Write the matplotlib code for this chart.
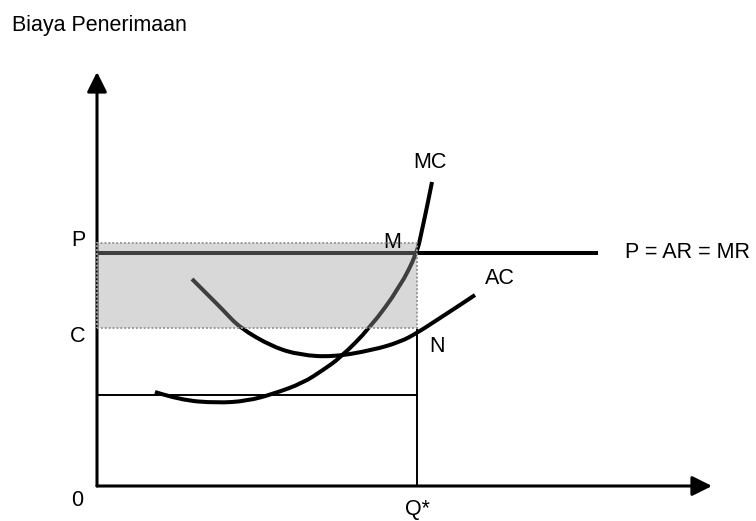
import matplotlib
matplotlib.use("Agg")
import matplotlib.pyplot as plt
from matplotlib.patches import Rectangle, PathPatch
from matplotlib.path import Path

plt.rcParams['font.family'] = ['Liberation Sans', 'DejaVu Sans']

# ---- data (arbitrary economic units) ----
Q_star = 32.0
P_level = 23.3
C_level = 15.8
shade_top = 24.3
low_level = 9.1
p_line_end = 50.1
x_axis_end = 61.5
y_axis_end = 41.4

mc_q = [5.8, 8.3, 12.0, 15.0, 17.6, 20.6, 22.6, 24.3, 27.3, 30.3, 32.0, 32.5, 33.0, 33.5]
mc_y = [9.4, 8.6, 8.3, 8.5, 9.2, 10.3, 11.6, 12.8, 15.8, 19.9, 23.3, 25.6, 27.9, 30.4]

ac_q = [9.5, 11.2, 12.6, 14.3, 17.6, 20.3, 23.6, 27.6, 30.3, 32.0, 34.3, 36.3, 37.8]
ac_y = [20.7, 19.0, 17.6, 15.8, 13.9, 13.1, 12.9, 13.6, 14.4, 15.3, 16.8, 18.1, 19.1]

labels = {
    "Biaya Penerimaan": (-8.5, 46.1, 'left'),
    "P": (-1.9, 24.6, 'center'),
    "C": (-1.9, 14.9, 'center'),
    "0": (-2.0, -1.4, 'center'),
    "Q*": (32.0, -2.4, 'center'),
    "M": (29.5, 24.4, 'center'),
    "N": (34.0, 13.9, 'center'),
    "MC": (33.3, 32.3, 'center'),
    "AC": (40.3, 20.8, 'center'),
    "P = AR = MR": (52.8, 23.3, 'left'),
}


def smooth_path(xs, ys):
    """Quadratic-Bezier path guided by the read points (rendering only)."""
    pts = list(zip(xs, ys))
    verts = [pts[0]]
    codes = [Path.MOVETO]
    for i in range(1, len(pts) - 1):
        mid = ((pts[i][0] + pts[i + 1][0]) / 2, (pts[i][1] + pts[i + 1][1]) / 2)
        if i == len(pts) - 2:
            mid = pts[i + 1]
        verts += [pts[i], mid]
        codes += [Path.CURVE3, Path.CURVE3]
    return Path(verts, codes)


fig = plt.figure(figsize=(7.56, 5.21), dpi=100)
ax = fig.add_axes([0, 0, 1, 1])
ax.set_xlim(-9.7, 65.9)
ax.set_ylim(-3.5, 48.6)
ax.axis('off')

# axes with arrows
arrow_kw = dict(arrowstyle='-|>,head_length=0.6,head_width=0.3', lw=2.2,
                color='black', shrinkA=0, shrinkB=0, mutation_scale=20)
ax.annotate("", xy=(0, y_axis_end), xytext=(0, 0), arrowprops=arrow_kw)
ax.annotate("", xy=(x_axis_end, 0), xytext=(0, 0), arrowprops=arrow_kw)

# price line
ax.plot([0, p_line_end], [P_level, P_level], color='black', lw=2.9, solid_capstyle='butt', zorder=2)
# thin lines
ax.plot([0, Q_star], [low_level, low_level], color='black', lw=1.4, zorder=2)
ax.plot([Q_star, Q_star], [0, C_level], color='black', lw=1.4, zorder=2)

# curves
for xs, ys in ((mc_q, mc_y), (ac_q, ac_y)):
    ax.add_patch(PathPatch(smooth_path(xs, ys), facecolor='none', edgecolor='black',
                           lw=2.9, capstyle='butt', joinstyle='round', zorder=2))

# shaded profit area (translucent, on top)
ax.add_patch(Rectangle((0, C_level), Q_star, shade_top - C_level,
                       facecolor=(0.625, 0.625, 0.625), alpha=0.4, edgecolor='none', zorder=3))
ax.add_patch(Rectangle((0, C_level), Q_star, shade_top - C_level,
                       facecolor='none', edgecolor='#999999', lw=1.4, linestyle=(0, (1, 1)), zorder=4))

for txt, (x, y, ha) in labels.items():
    ax.text(x, y, txt, ha=ha, va='center', fontsize=15.5, color='black')

fig.savefig('out.png', dpi=100)
